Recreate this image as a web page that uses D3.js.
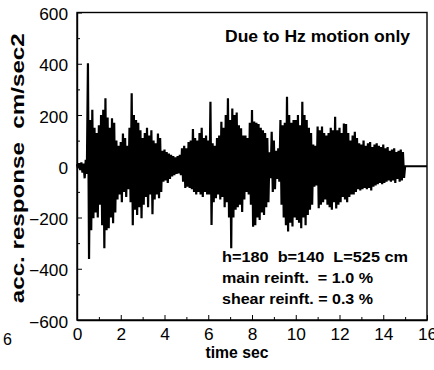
<!DOCTYPE html>
<html>
<head>
<meta charset="utf-8">
<script src="https://cdn.jsdelivr.net/npm/d3@7"></script>
<style>
  body { margin: 0; background: #fff; }
  svg { display: block; }
  text { font-family: "Liberation Sans", Arial, Helvetica, sans-serif; fill: #000; }
</style>
</head>
<body>
<script>
// Acceleration response record: alternating positive / negative peaks.
// peakHigh[i] occurs at t = i*dt, peakLow[i] at t = i*dt + dt/2 (cm/sec2).
const dt = 0.1;
const peakHigh = [
  8, 12, 15, 10, 25, 402, 180, 220, 150, 130,
  160, 200, 220, 265, 190, 150, 187, 170, 100, 80,
  95, 128, 110, 80, 150, 285, 200, 180, 170, 140,
  110, 130, 150, 120, 140, 100, 90, 128, 110, 60,
  65, 55, 50, 45, 40, 35, 40, 45, 70, 80,
  70, 95, 100, 145, 110, 100, 130, 150, 110, 120,
  100, 252, 90, 80, 110, 120, 174, 150, 200, 265,
  180, 225, 200, 210, 160, 148, 120, 120, 110, 170,
  219, 175, 170, 165, 150, 140, 130, 110, 55, 135,
  100, 60, 70, 180, 160, 170, 271, 200, 170, 180,
  180, 200, 160, 252, 200, 180, 150, 130, 85, 80,
  155, 140, 155, 130, 120, 130, 150, 140, 193, 140,
  150, 130, 167, 165, 130, 100, 120, 135, 110, 90,
  85, 100, 80, 90, 95, 75, 85, 90, 80, 75,
  85, 70, 75, 60, 65, 70, 55, 60, 65, 55
];
const peakLow = [
  -8, -15, -25, -47, -30, -362, -250, -203, -180, -200,
  -150, -230, -320, -250, -242, -200, -222, -180, -130, -110,
  -140, -100, -120, -90, -140, -230, -170, -190, -160, -203,
  -150, -120, -160, -110, -187, -130, -110, -125, -100, -60,
  -55, -65, -50, -40, -35, -30, -28, -35, -60, -85,
  -80, -85, -90, -100, -110, -100, -110, -120, -100, -110,
  -110, -229, -140, -125, -110, -130, -120, -160, -140, -200,
  -320, -200, -170, -160, -150, -178, -130, -100, -110, -150,
  -236, -230, -200, -210, -180, -190, -160, -140, -47, -100,
  -90, -50, -60, -150, -200, -230, -255, -220, -235, -200,
  -210, -220, -242, -200, -230, -190, -170, -150, -80, -75,
  -164, -150, -140, -130, -150, -160, -170, -140, -165, -150,
  -140, -120, -130, -140, -120, -110, -110, -100, -90, -95,
  -90, -85, -90, -85, -95, -80, -75, -70, -65, -70,
  -65, -60, -55, -60, -55, -65, -50, -60, -55, -45
];
// After the record ends the response stays at zero up to the axis end.
const recordTail = [[15, 0], [16, 0]];

const xTicks = [0, 2, 4, 6, 8, 10, 12, 14, 16];
const xMinorTicks = d3.range(1, 16, 2);
const yTicks = [-600, -400, -200, 0, 200, 400, 600];
const yMinorTicks = [-500, -300, -100, 100, 300, 500];

const titleText = "Due to Hz motion only";
const noteLines = ["h=180  b=140  L=525 cm", "main reinft.  = 1.0 %", "shear reinft. = 0.3 %"];
const xTitle = "time sec";
const yTitle = "acc. response  cm/sec2";

const W = 434, H = 370;
const svg = d3.select("body").append("svg").attr("width", W).attr("height", H);

const x = d3.scaleLinear().domain([0, 16]).range([77, 427]);
const y = d3.scaleLinear().domain([-600, 600]).range([320, 12.5]);

// Printed type in this figure runs a little wider than the stock face.
function widen(sel, k) {
  sel.each(function () {
    const w = this.getComputedTextLength();
    d3.select(this).attr("textLength", w * k).attr("lengthAdjust", "spacingAndGlyphs");
  });
}

// Signal trace
const pts = [];
peakHigh.forEach((v, i) => {
  pts.push([i * dt, v]);
  pts.push([i * dt + dt / 2, peakLow[i]]);
});
recordTail.forEach(p => pts.push(p));

svg.append("path")
  .attr("d", d3.line().x(d => x(d[0])).y(d => y(d[1]))(pts))
  .attr("fill", "none")
  .attr("stroke", "#000")
  .attr("stroke-width", 2.2)
  .attr("stroke-linejoin", "miter")
  .attr("stroke-miterlimit", 3);

// Axes (ticks pointing into the frame)
const gx = svg.append("g").attr("transform", `translate(0,${y(-600)})`)
  .call(d3.axisBottom(x).tickValues(xTicks).tickFormat(d3.format("d"))
    .tickSizeInner(-5).tickSizeOuter(0).tickPadding(9));
svg.append("g").attr("transform", `translate(0,${y(-600)})`)
  .call(d3.axisBottom(x).tickValues(xMinorTicks).tickFormat("")
    .tickSizeInner(-3).tickSizeOuter(0))
  .select(".domain").remove();

const gy = svg.append("g").attr("transform", `translate(${x(0)},0)`)
  .call(d3.axisLeft(y).tickValues(yTicks).tickFormat(d3.format("d"))
    .tickSizeInner(-5).tickSizeOuter(0).tickPadding(9));
svg.append("g").attr("transform", `translate(${x(0)},0)`)
  .call(d3.axisLeft(y).tickValues(yMinorTicks).tickFormat("")
    .tickSizeInner(-3).tickSizeOuter(0))
  .select(".domain").remove();

[gx, gy].forEach(g => {
  g.selectAll("text").style("font-size", "16px").attr("fill", "#000");
  g.selectAll("line").attr("stroke", "#000");
  g.select(".domain").attr("stroke", "#000").attr("stroke-width", 1.4);
});
gy.selectAll("text").attr("dy", "0.45em");
widen(gy.selectAll("text"), 1.08);
widen(gx.selectAll("text"), 1.08);

// Frame
svg.append("rect")
  .attr("x", x(0)).attr("y", y(600))
  .attr("width", x(16) - x(0)).attr("height", y(-600) - y(600))
  .attr("fill", "none").attr("stroke", "#000").attr("stroke-width", 1.4);

// Titles
svg.append("text")
  .attr("x", 225).attr("y", 42)
  .style("font-size", "16px").style("font-weight", "bold")
  .attr("textLength", 185).attr("lengthAdjust", "spacingAndGlyphs")
  .text(titleText);

const noteWidths = [186, 151, 151];
svg.append("g").selectAll("text").data(noteLines).join("text")
  .attr("x", 222).attr("y", (d, i) => 262 + i * 21)
  .style("font-size", "14px").style("font-weight", "bold")
  .attr("xml:space", "preserve").style("white-space", "pre")
  .attr("textLength", (d, i) => noteWidths[i]).attr("lengthAdjust", "spacingAndGlyphs")
  .text(d => d);

svg.append("text")
  .attr("x", 237).attr("y", 358)
  .attr("text-anchor", "middle")
  .style("font-size", "16px").style("font-weight", "bold")
  .attr("textLength", 63).attr("lengthAdjust", "spacingAndGlyphs")
  .text(xTitle);

svg.append("text")
  .attr("transform", `translate(24,${(y(600) + y(-600)) / 2 + 2}) rotate(-90)`)
  .attr("text-anchor", "middle")
  .style("font-size", "19px").style("font-weight", "bold")
  .attr("xml:space", "preserve").style("white-space", "pre")
  .attr("textLength", 270).attr("lengthAdjust", "spacingAndGlyphs")
  .text(yTitle);

// Edge of the neighbouring panel's axis label
svg.append("text")
  .attr("x", 3).attr("y", 345)
  .style("font-size", "16px")
  .text("6");
</script>
</body>
</html>
